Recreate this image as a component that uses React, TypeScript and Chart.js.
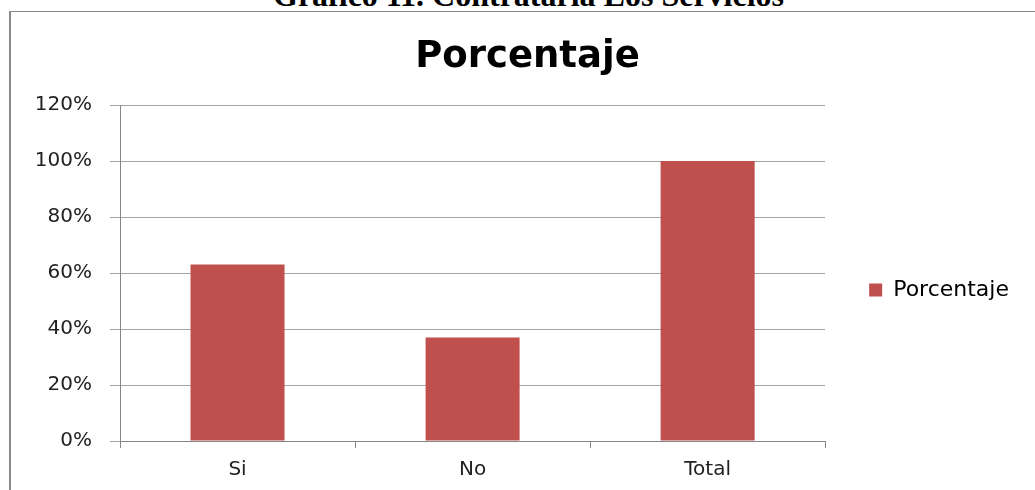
import React, { useEffect, useRef } from "react";
import { Chart, registerables } from "chart.js";

Chart.register(...registerables);

const categories = ["Si", "No", "Total"];
const seriesLabel = "Porcentaje";
const values = [0.63, 0.37, 1.0];
const yTicksMax = 1.2;
const yTickStep = 0.2;
const pageHeading = "Gráfico 11. Contrataría Los Servicios";
const chartTitle = "Porcentaje";

export default function App() {
  const ref = useRef<HTMLCanvasElement | null>(null);

  useEffect(() => {
    if (!ref.current) return;
    const chart = new Chart(ref.current, {
      type: "bar",
      data: {
        labels: categories,
        datasets: [
          {
            label: seriesLabel,
            data: values,
            backgroundColor: "#C0504D",
            borderWidth: 0,
            categoryPercentage: 0.4,
            barPercentage: 1,
          },
        ],
      },
      options: {
        animation: false,
        responsive: false,
        devicePixelRatio: 1,
        layout: { padding: { left: 36, right: 16, top: 0, bottom: 0 } },
        plugins: {
          title: {
            display: true,
            text: chartTitle,
            color: "#000",
            font: { family: "DejaVu Sans", size: 37, weight: "bold" },
            padding: { top: 35, bottom: 25.6 },
          },
          legend: {
            display: true,
            position: "right",
            align: "center",
            labels: {
              boxWidth: 13,
              boxHeight: 13,
              padding: 44,
              color: "#000",
              font: { family: "DejaVu Sans", size: 22 },
            },
          },
          tooltip: { enabled: false },
        },
        scales: {
          x: {
            grid: {
              display: true,
              offset: true,
              drawOnChartArea: false,
              drawTicks: true,
              tickLength: 7,
              color: "#868686",
            },
            border: { display: true, color: "#868686", width: 1 },
            ticks: {
              color: "#222",
              padding: 10,
              font: { family: "DejaVu Sans", size: 20 },
            },
            afterFit: (scale: any) => {
              scale.height = 139;
            },
          },
          y: {
            min: 0,
            max: yTicksMax,
            grid: {
              color: "#a6a6a6",
              drawTicks: true,
              tickLength: 10,
            },
            border: { display: true, color: "#868686", width: 1 },
            ticks: {
              stepSize: yTickStep,
              padding: 18,
              color: "#222",
              font: { family: "DejaVu Sans", size: 20 },
              callback: (v: any) => Math.round(Number(v) * 100) + "%",
            },
            afterFit: (scale: any) => {
              scale.width = 84;
            },
          },
        },
      },
    });
    return () => chart.destroy();
  }, []);

  return (
    <div
      style={{
        position: "fixed",
        left: 0,
        top: 0,
        width: 1035,
        height: 490,
        overflow: "hidden",
        background: "#fff",
      }}
    >
      <div
        style={{
          position: "absolute",
          left: 0,
          width: 1057,
          top: -21,
          textAlign: "center",
          fontFamily: "'Liberation Serif', 'Times New Roman', serif",
          fontWeight: "bold",
          fontSize: 32,
          lineHeight: "32px",
          color: "#000",
          whiteSpace: "nowrap",
        }}
      >
        {pageHeading}
      </div>
      <div
        style={{
          position: "absolute",
          left: 9,
          top: 11,
          width: 1100,
          height: 600,
          borderLeft: "2px solid #888",
          borderTop: "1px solid #888",
        }}
      />
      <canvas
        ref={ref}
        width={1035}
        height={580}
        style={{ position: "absolute", left: 0, top: 0 }}
      />
    </div>
  );
}
